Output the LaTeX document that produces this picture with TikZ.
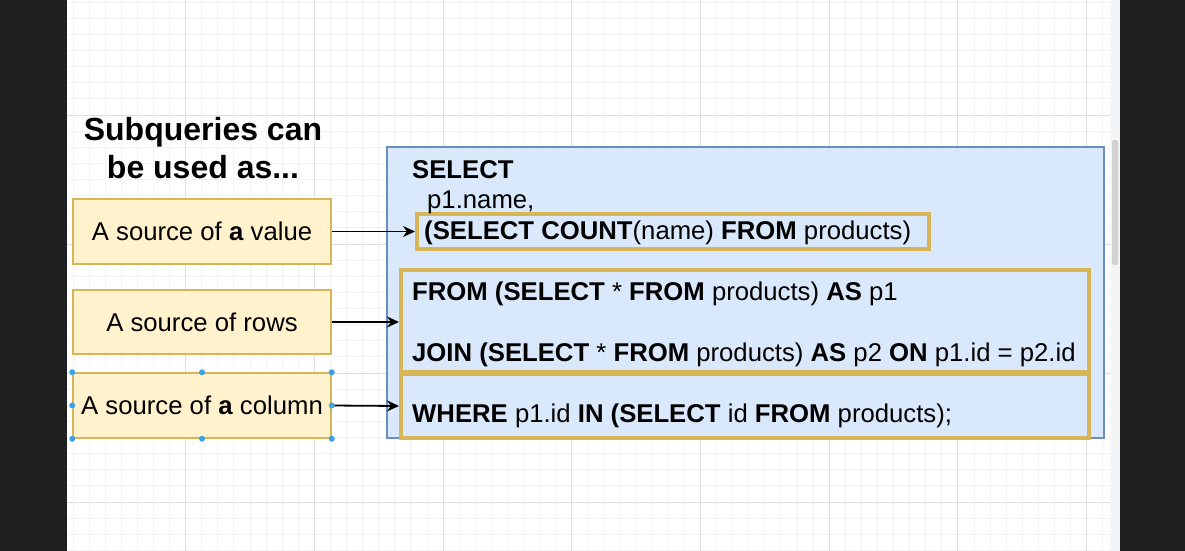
\documentclass[tikz,border=0pt]{standalone}
\usepackage{fontspec}
\setmainfont{Liberation Sans}
\usetikzlibrary{arrows.meta,positioning}
\definecolor{noteyellow}{RGB}{255,242,204}
\definecolor{notegold}{RGB}{214,182,86}
\definecolor{sqlblue}{RGB}{218,232,252}
\definecolor{sqlborder}{RGB}{108,142,191}
\definecolor{gridminor}{RGB}{243,243,243}
\definecolor{gridmajor}{RGB}{222,222,222}
\definecolor{framedark}{RGB}{30,31,33}
\definecolor{handleblue}{RGB}{60,160,235}
\definecolor{scrollgrey}{RGB}{244,245,247}

\tikzset{
  srcbox/.style={draw=notegold, fill=noteyellow, line width=1.5pt, minimum width=258pt, minimum height=65pt, inner sep=0pt, font=\fontsize{25.7}{30}\selectfont},
  goldbox/.style={draw=notegold, line width=4pt, inner sep=0pt},
  sqltext/.style={anchor=base west, inner sep=0pt, font=\fontsize{25.7}{30}\selectfont},
  handle/.style={circle, fill=handleblue, inner sep=0pt, minimum size=6pt},
  feed/.style={-{Stealth[length=12pt,width=11pt]}, line width=1.8pt}
}

\begin{document}
\begin{tikzpicture}[x=1pt, y=-1pt]
  \useasboundingbox (0,0) rectangle (1185,551);
  % canvas and grid
  \fill[white] (67,0) rectangle (1110,551);
  \begin{scope}
    \clip (67,0) rectangle (1110,551);
    \foreach \i in {0,...,66} {
      \pgfmathsetmacro\gx{57+16.0875*\i}
      \draw[gridminor, line width=1pt] (\gx,0) -- (\gx,551);
    }
    \foreach \i in {-7,...,27} {
      \pgfmathsetmacro\gy{115+16.125*\i}
      \draw[gridminor, line width=1pt] (67,\gy) -- (1110,\gy);
    }
    \foreach \i in {0,...,8} {
      \pgfmathsetmacro\gx{57+128.7*\i}
      \draw[gridmajor, line width=1pt] (\gx,0) -- (\gx,551);
    }
    \foreach \i in {-1,...,3} {
      \pgfmathsetmacro\gy{115+129*\i}
      \draw[gridmajor, line width=1pt] (67,\gy) -- (1110,\gy);
    }
  \end{scope}
  \fill[scrollgrey] (1110,0) rectangle (1120,551);
  \fill[gray!35, rounded corners=2pt] (1112,140) rectangle (1118,265);
  \fill[framedark] (0,0) rectangle (67,551);
  \fill[framedark] (1120,0) rectangle (1185,551);

  % left column
  \node[font=\fontsize{32}{38}\selectfont\bfseries, align=center, inner sep=0pt] (title) at (203,148) {Subqueries can\\be used as...};
  \node[srcbox] (value) at (202,231.5) {A source of \textbf{a} value};
  \node[srcbox, minimum height=64pt] (rows) at (202,322) {A source of rows};
  \node[srcbox] (column) at (202,405.5) {A source of \textbf{a} column};

  % query
  \node[draw=sqlborder, fill=sqlblue, line width=1.2pt, minimum width=717pt, minimum height=291pt, inner sep=0pt] (query) at (745.5,292.5) {};
  \node[goldbox, minimum width=512pt, minimum height=35pt] (countbox) at (673,231.5) {};
  \node[goldbox, minimum width=688pt, minimum height=102pt] (frombox) at (745,321) {};
  \node[goldbox, minimum width=688pt, minimum height=64pt] (wherebox) at (745,406) {};

  \node[sqltext] (kwselect) at (412,178) {\textbf{SELECT}};
  \node[sqltext] (colname) at (427,208) {p1.name,};
  \node[sqltext] (countline) at (424,239.5) {\textbf{(SELECT COUNT}(name) \textbf{FROM} products)};
  \node[sqltext] (fromline) at (412,300.5) {\textbf{FROM (SELECT} * \textbf{FROM} products) \textbf{AS} p1};
  \node[sqltext] (joinline) at (412,361.5) {\textbf{JOIN (SELECT} * \textbf{FROM} products) \textbf{AS} p2 \textbf{ON} p1.id = p2.id};
  \node[sqltext] (whereline) at (412,422.5) {\textbf{WHERE} p1.id \textbf{IN (SELECT} id \textbf{FROM} products);};

  % arrows
  \draw[feed] (value.east) -- (countbox.west);
  \draw[feed] (rows.east) -- (rows.east -| frombox.west);
  \draw[feed] (column.east) -- (wherebox.west);

  % selection handles
  \foreach \a in {north west,north,north east,west,east,south west,south,south east}
    \node[handle] at (column.\a) {};
\end{tikzpicture}
\end{document}
